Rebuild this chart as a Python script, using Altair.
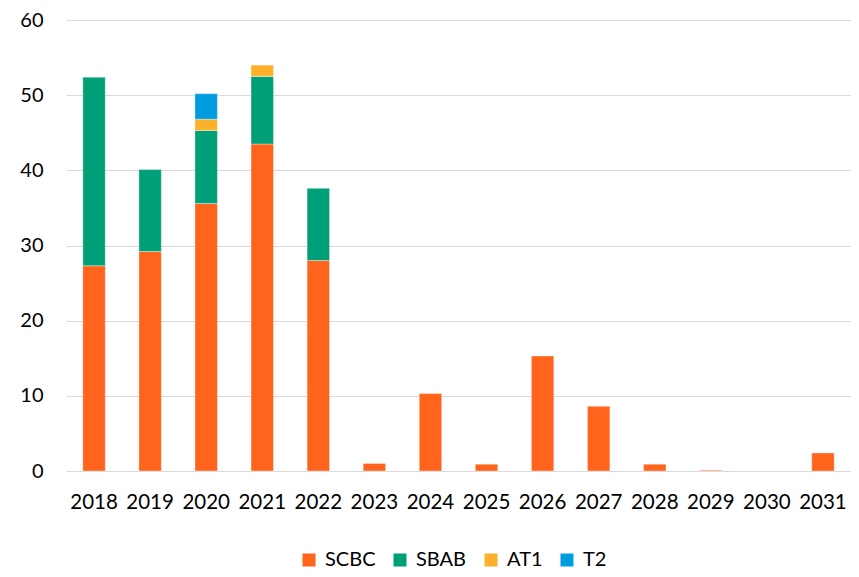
import altair as alt
import pandas as pd

years = ["2018", "2019", "2020", "2021", "2022", "2023", "2024", "2025",
         "2026", "2027", "2028", "2029", "2030", "2031"]
series = ["SCBC", "SBAB", "AT1", "T2"]
colors = ["#FF631C", "#009F77", "#FDB12A", "#009DDE"]

scbc = [27.3, 29.2, 35.6, 43.5, 28.0, 1.0, 10.3, 0.9, 15.3, 8.6, 0.9, 0.1, 0.0, 2.4]
sbab = [25.1, 10.9, 9.7, 9.0, 9.6, 0, 0, 0, 0, 0, 0, 0, 0, 0]
at1 = [0, 0, 1.5, 1.5, 0, 0, 0, 0, 0, 0, 0, 0, 0, 0]
t2 = [0, 0, 3.4, 0, 0, 0, 0, 0, 0, 0, 0, 0, 0, 0]

rows = []
for name, vals in zip(series, [scbc, sbab, at1, t2]):
    for y, v in zip(years, vals):
        if v > 0:
            rows.append({"year": y, "series": name, "value": v,
                         "order": series.index(name)})
df = pd.DataFrame(rows)

FONT = "Lato"

chart = alt.Chart(df).mark_bar(stroke="white", strokeWidth=0.6, strokeOpacity=0.6).encode(
    x=alt.X("year:N", sort=years,
            scale=alt.Scale(domain=years, paddingInner=0.6, paddingOuter=0.3),
            axis=alt.Axis(title=None, labelAngle=0, domain=False, ticks=False,
                          labelPadding=21, labelFontSize=20.5, labelFont=FONT,
                          labelColor="#000000")),
    y=alt.Y("value:Q", stack="zero",
            scale=alt.Scale(domain=[0, 60]),
            axis=alt.Axis(title=None, values=[0, 10, 20, 30, 40, 50, 60],
                          domain=False, ticks=False, grid=True,
                          gridColor="#D9D9D9", gridWidth=1.2,
                          labelPadding=23, labelFontSize=20, labelFont=FONT,
                          labelColor="#000000")),
    color=alt.Color("series:N",
                    scale=alt.Scale(domain=series, range=colors),
                    legend=alt.Legend(title=None, orient="none",
                                      direction="horizontal",
                                      legendX=233, legendY=530, padding=0,
                                      symbolType="square", symbolSize=169,
                                      symbolStrokeWidth=0,
                                      labelFontSize=20, labelFont=FONT,
                                      labelColor="#000000",
                                      columnPadding=14, labelOffset=6)),
    order=alt.Order("order:Q", sort="ascending"),
).properties(
    width=785, height=451,
    autosize=alt.AutoSizeParams(type="none"),
    padding={"left": 58, "top": 12, "right": 0, "bottom": 98},
).configure_view(stroke=None)

chart.save("out.html", embed_options={"renderer": "svg", "actions": False})
